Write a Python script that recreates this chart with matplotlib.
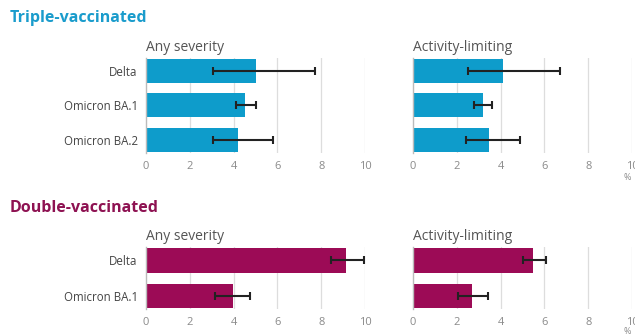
import matplotlib
matplotlib.use("Agg")
import matplotlib.pyplot as plt
import numpy as np

plt.rcParams['font.family'] = ['Open Sans', 'DejaVu Sans']

# Triple-vaccinated
triple_cats = ["Delta", "Omicron BA.1", "Omicron BA.2"]
triple_any = [5.0, 4.5, 4.2]
triple_any_lo = [3.07, 4.1, 3.07]
triple_any_hi = [7.7, 5.0, 5.8]
triple_act = [4.1, 3.18, 3.48]
triple_act_lo = [2.5, 2.8, 2.4]
triple_act_hi = [6.7, 3.6, 4.9]

# Double-vaccinated
double_cats = ["Delta", "Omicron BA.1"]
double_any = [9.15, 3.97]
double_any_lo = [8.47, 3.14]
double_any_hi = [9.95, 4.76]
double_act = [5.47, 2.71]
double_act_lo = [5.0, 2.07]
double_act_hi = [6.09, 3.41]

xticks = [0, 2, 4, 6, 8, 10]
panel_titles = ["Any severity", "Activity-limiting"]

BLUE = "#0e9ccb"
MAROON = "#9c0b56"
GRID = "#dddddd"
TICK = "#8a8a8a"
LABEL = "#444444"

W, H = 635, 336
fig = plt.figure(figsize=(W / 100, H / 100), dpi=100)


def ax_rect(x0, x1, y0, y1):
    return [x0 / W, 1 - y1 / H, (x1 - x0) / W, (y1 - y0) / H]


def draw_panel(ax, cats, vals, lo, hi, color, title, show_labels, ylim):
    y = np.arange(len(cats))
    vals = np.asarray(vals)
    err = np.vstack([vals - np.asarray(lo), np.asarray(hi) - vals])
    ax.barh(y, vals, height=0.69, color=color, zorder=2)
    ax.errorbar(vals, y, xerr=err, fmt="none", ecolor="#222222",
                elinewidth=1.5, capsize=3, capthick=1.5, zorder=3)
    ax.set_xlim(0, 10)
    ax.set_ylim(*ylim)
    ax.set_xticks(xticks)
    ax.set_xticklabels([str(t) for t in xticks])
    ax.tick_params(axis="x", length=0, labelsize=8, labelcolor=TICK, pad=6)
    ax.tick_params(axis="y", length=0, labelsize=8.3, labelcolor=LABEL, pad=6)
    ax.set_yticks(y)
    if show_labels:
        ax.set_yticklabels(cats)
    else:
        ax.set_yticklabels([])
    for t in xticks[1:]:
        ax.axvline(t, color=GRID, lw=0.9, zorder=1)
    for s in ["top", "right", "bottom"]:
        ax.spines[s].set_visible(False)
    ax.spines["left"].set_color("#bbbbbb")
    ax.spines["left"].set_linewidth(1.0)
    ax.set_title(title, loc="left", fontsize=10, color="#555555", pad=5)


# Top block
top_ylim = (2.38, -0.37)
ax1 = fig.add_axes(ax_rect(146, 365, 58, 153))
draw_panel(ax1, triple_cats, triple_any, triple_any_lo, triple_any_hi,
           BLUE, panel_titles[0], True, top_ylim)
ax2 = fig.add_axes(ax_rect(413, 632, 58, 153))
draw_panel(ax2, triple_cats, triple_act, triple_act_lo, triple_act_hi,
           BLUE, panel_titles[1], False, top_ylim)

# Bottom block
bot_ylim = (1.37, -0.38)
ax3 = fig.add_axes(ax_rect(146, 365, 247, 309))
draw_panel(ax3, double_cats, double_any, double_any_lo, double_any_hi,
           MAROON, panel_titles[0], True, bot_ylim)
ax4 = fig.add_axes(ax_rect(413, 632, 247, 309))
draw_panel(ax4, double_cats, double_act, double_act_lo, double_act_hi,
           MAROON, panel_titles[1], False, bot_ylim)

fig.text(10 / W, 1 - 18 / H, "Triple-vaccinated", fontsize=11.5,
         fontweight="bold", color="#1a9ccc", va="center", ha="left")
fig.text(10 / W, 1 - 208 / H, "Double-vaccinated", fontsize=11.5,
         fontweight="bold", color="#8e1252", va="center", ha="left")

fig.text(624 / W, 1 - 178 / H, "%", fontsize=6.5, color=TICK, ha="left", va="center")
fig.text(624 / W, 1 - 332 / H, "%", fontsize=6.5, color=TICK, ha="left", va="center")

fig.savefig("out.png", dpi=100)
